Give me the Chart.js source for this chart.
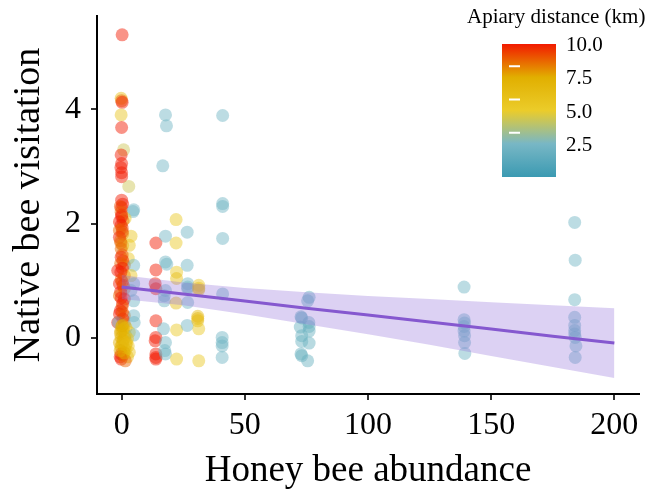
<!DOCTYPE html>
<html><head><meta charset="utf-8">
<style>html,body{margin:0;padding:0;background:#fff;}canvas{display:block;}</style>
<script src="https://cdn.jsdelivr.net/npm/chart.js@4/dist/chart.umd.min.js"></script>
</head><body>
<canvas id="c" width="649" height="492"></canvas>
<script>
// ---- data ----
const honeyBee = [
  // x ~ 0
  0.2,-0.2,0.0,0.2,-0.2,0.0,0.8,-0.2,0.0,-0.3,0.0,0.0,2.9,0.0,0.4,0.0,4.9,4.6,-0.2,0.0,
  1.4,0.6,-0.9,-0.2,0.2,-0.9,0.4,3.8,-0.9,-0.5,0.4,3.1,-0.2,-0.2,2.7,0.5,-0.4,1.1,4.9,0.3,
  -1.6,1.1,3.8,-0.2,-0.9,4.9,0.6,1.1,3.8,-0.4,-0.9,1.1,4.9,0.4,0.2,-0.5,-0.9,1.1,4.9,0.5,
  -1.6,-1.3,1.1,5.1,0.0,1.8,0.4,3.1,-0.5,1.5,4.9,-0.2,2.4,0.6,-0.9,2.0,2.7,-0.3,1.1,1.5,
  3.1,-0.2,0.6,-0.6,2.4,-0.2,1.5,
  // x ~ 14
  13.9,13.9,13.6,13.9,13.9,13.9,13.6,13.9,13.9,13.9,
  // x ~ 18
  17.8,18.2,16.7,17.8,17.8,18.3,17.3,17.3,17.8,17.0,17.8,17.5,17.8,
  // x ~ 22
  22.1,22.1,22.3,22.3,22.1,22.3,22.3,
  // x ~ 27
  26.6,26.6,26.8,26.8,26.8,26.8,26.6,
  // x ~ 31
  31.3,31.3,31.3,30.9,30.9,30.9,31.3,31.3,
  // x ~ 41
  41.0,41.0,41.0,41.0,41.0,40.8,40.8,40.8,40.8,
  // x ~ 73-76
  76.1,75.5,72.8,73.1,76.0,76.1,72.5,76.1,73.1,73.1,76.1,72.8,73.1,75.5,
  // x ~ 139
  139.0,139.0,139.2,139.0,139.0,139.2,139.2,139.3,
  // x ~ 184
  183.9,184.1,183.9,183.9,183.9,183.9,183.9,184.1,184.4,184.1,
  // x ~ 0, overlapping
  0.0,-0.5,0.3,-0.3,0.2,-0.3,0.2,-0.2,0.3,0.8,-0.3,1.2,0.3,1.8,-0.6,1.0,0.3
];
const nativeVisits = [
  5.30,4.19,4.15,4.12,3.90,3.68,3.29,3.20,3.05,2.98,2.89,2.82,2.65,2.41,2.34,2.28,2.24,2.21,2.20,2.15,
  2.09,2.05,2.03,1.97,1.92,1.88,1.82,1.78,1.76,1.70,1.62,1.62,1.56,1.41,1.39,1.35,1.30,1.27,1.27,1.22,
  1.18,1.09,1.09,1.02,0.95,0.95,0.92,0.86,0.83,0.80,0.74,0.68,0.65,0.60,0.55,0.48,0.42,0.39,0.39,0.33,
  0.27,0.27,0.25,0.27,0.20,0.18,0.13,0.10,0.08,0.05,0.05,0.01,-0.01,-0.04,-0.08,-0.08,-0.14,-0.15,-0.19,-0.22,
  -0.25,-0.28,-0.30,-0.33,-0.33,-0.37,-0.40,
  1.66,1.19,0.95,0.86,0.30,0.01,-0.05,-0.28,-0.34,-0.37,
  3.90,3.71,3.01,1.78,1.33,1.29,0.74,0.65,0.83,0.16,-0.08,-0.22,-0.28,
  2.07,1.66,1.15,1.04,0.61,0.14,-0.37,
  1.85,1.27,0.95,0.89,0.86,0.62,0.22,
  0.92,0.87,0.84,0.38,0.34,0.30,0.16,-0.40,
  3.89,2.35,2.30,1.74,0.77,0.01,-0.08,-0.14,-0.34,
  0.71,0.65,0.37,0.35,0.27,0.20,0.19,0.12,0.04,-0.06,-0.09,-0.28,-0.31,-0.40,
  0.89,0.32,0.26,0.20,0.12,0.04,-0.08,-0.27,
  2.02,1.36,0.67,0.36,0.22,0.13,0.07,0.01,-0.14,-0.34,
  2.12,2.30,1.86,1.66,1.45,1.15,0.98,0.70,0.45,0.16,0.12,0.00,-0.10,-0.12,-0.22,-0.26,0.22
];
const apiaryKm = [
  10.0,6.0,8.7,10.0,5.8,10.0,4.3,10.0,10.0,10.0,10.0,10.0,4.3,10.0,10.0,10.0,2.2,2.2,8.7,10.0,
  5.6,8.7,10.0,10.0,9.2,8.7,8.7,5.6,10.0,8.7,7.8,5.6,8.7,10.0,5.6,10.0,8.7,8.7,2.2,10.0,
  10.0,8.7,5.6,8.7,10.0,2.2,10.0,8.7,2.2,10.0,8.7,10.0,2.2,10.0,8.7,10.0,10.0,8.7,2.2,10.0,
  10.0,2.2,8.7,2.2,7.5,6.2,7.0,5.6,7.5,6.5,2.2,7.0,5.6,7.5,7.5,6.2,5.6,7.5,7.0,6.5,
  5.6,9.2,7.5,10.0,6.0,10.0,8.7,
  10.0,10.0,10.0,10.0,10.0,10.0,10.0,10.0,10.0,10.0,
  2.2,2.2,2.2,2.2,2.2,2.2,2.2,2.2,2.2,2.2,2.2,2.2,2.2,
  5.4,5.4,5.4,6.2,6.2,5.4,5.4,
  2.2,2.2,2.2,2.2,2.2,2.2,2.2,
  5.4,6.0,6.5,6.5,6.8,6.5,5.4,5.4,
  2.2,2.2,2.2,2.2,2.2,2.2,2.2,2.2,2.2,
  1.9,1.9,1.9,1.9,1.9,1.9,1.9,1.9,1.9,1.9,1.9,1.9,1.9,1.9,
  2.2,2.2,2.2,2.2,2.2,2.2,2.2,2.2,
  2.2,2.2,2.2,2.2,2.2,2.2,2.2,2.2,2.2,2.2,
  10.0,9.2,9.2,8.7,9.2,10.0,9.2,10.0,9.2,7.0,7.5,7.0,7.0,6.5,7.5,7.5,7.5
];
// fitted line and confidence band
const fitX     = [0, 25, 50, 75, 100, 125, 150, 175, 200];
const fitY     = [0.89, 0.77, 0.645, 0.52, 0.40, 0.28, 0.155, 0.03, -0.09];
const fitUpper = [1.10, 0.97, 0.875, 0.80, 0.735, 0.68, 0.625, 0.57, 0.52];
const fitLower = [0.68, 0.57, 0.415, 0.24, 0.065, -0.12, -0.315, -0.51, -0.70];
// axes / legend
const xTicks = [0, 50, 100, 150, 200];
const yTicks = [0, 2, 4];
const xRange = [-10, 210];
const yRange = [-0.98, 5.63];
const distRange = [0, 10];
const legendTicks = [2.5, 5.0, 7.5, 10.0];
const legendLabels = ['2.5', '5.0', '7.5', '10.0'];
const palette = ['#3B9AB2', '#78B7C5', '#EBCC2A', '#E1AF00', '#F21A00'];

// ---- helpers ----
function hexRgb(h){ return [parseInt(h.slice(1,3),16), parseInt(h.slice(3,5),16), parseInt(h.slice(5,7),16)]; }
function distColor(d, a){
  let t = (d - distRange[0]) / (distRange[1] - distRange[0]);
  t = Math.max(0, Math.min(1, t));
  const seg = t * (palette.length - 1);
  const i = Math.min(Math.floor(seg), palette.length - 2);
  const f = seg - i;
  const c0 = hexRgb(palette[i]), c1 = hexRgb(palette[i+1]);
  const c = c0.map((v,k) => Math.round(v + (c1[k]-v)*f));
  return `rgba(${c[0]},${c[1]},${c[2]},${a})`;
}

const serif = "'Liberation Serif', 'Times New Roman', serif";
Chart.defaults.font.family = serif;

const colorbar = {
  id: 'colorbar',
  afterDraw(chart){
    const ctx = chart.ctx;
    const bx = 502, by = 44, bw = 54, bh = 133;
    ctx.save();
    const g = ctx.createLinearGradient(0, by + bh, 0, by);
    palette.forEach((c, i) => g.addColorStop(i / (palette.length - 1), c));
    ctx.fillStyle = g;
    ctx.fillRect(bx, by, bw, bh);
    // white tick marks
    ctx.strokeStyle = '#fff';
    ctx.lineWidth = 2;
    legendTicks.forEach(v => {
      const y = by + bh - (v - distRange[0]) / (distRange[1] - distRange[0]) * bh - 11;
      if (y > by + 2 && y < by + bh - 2) {
        ctx.beginPath(); ctx.moveTo(bx + 7, y); ctx.lineTo(bx + 18, y); ctx.stroke();
      }
    });
    ctx.fillStyle = '#000';
    ctx.font = `21px ${serif}`;
    ctx.textBaseline = 'middle';
    ctx.textAlign = 'left';
    legendTicks.forEach((v, i) => {
      const y = by + bh - (v - distRange[0]) / (distRange[1] - distRange[0]) * bh + 1.5;
      ctx.fillText(legendLabels[i], 566, y);
    });
    ctx.textBaseline = 'alphabetic';
    ctx.fillText('Apiary distance (km)', 467, 23);
    ctx.restore();
  }
};

const pts = honeyBee.map((x, i) => ({x: x, y: nativeVisits[i]}));
const ptColors = apiaryKm.map(d => distColor(d, 0.47));

new Chart(document.getElementById('c'), {
  type: 'scatter',
  data: {
    datasets: [
      { type: 'scatter', data: pts, order: 3,
        pointRadius: 6.5, pointHoverRadius: 6.5, pointBorderWidth: 0,
        pointBorderColor: 'rgba(0,0,0,0)', pointBackgroundColor: ptColors },
      { type: 'line', data: fitX.map((x, i) => ({x: x, y: fitUpper[i]})), order: 2,
        borderWidth: 0, borderColor: 'rgba(0,0,0,0)', pointRadius: 0, fill: '+1',
        backgroundColor: 'rgba(147,112,219,0.32)' },
      { type: 'line', data: fitX.map((x, i) => ({x: x, y: fitLower[i]})), order: 2,
        borderWidth: 0, borderColor: 'rgba(0,0,0,0)', pointRadius: 0, fill: false },
      { type: 'line', data: fitX.map((x, i) => ({x: x, y: fitY[i]})), order: 1,
        borderWidth: 3, borderColor: '#8558cf', pointRadius: 0, fill: false }
    ]
  },
  options: {
    responsive: false, animation: false, devicePixelRatio: 1,
    layout: { padding: { top: 16, right: 10, left: 0, bottom: 0 } },
    plugins: { legend: { display: false }, tooltip: { enabled: false } },
    scales: {
      x: {
        type: 'linear', min: xRange[0], max: xRange[1],
        afterBuildTicks: s => { s.ticks = xTicks.map(v => ({value: v})); },
        afterFit: s => { s.height = 98; s.paddingLeft = 0; s.paddingRight = 0; },
        ticks: { font: { size: 32 }, color: '#000', padding: 6, maxRotation: 0, autoSkip: false },
        grid: { display: true, drawOnChartArea: false, drawTicks: true, tickLength: 6, color: '#333', lineWidth: 2 },
        border: { display: true, color: '#000', width: 2 },
        title: { display: true, text: 'Honey bee abundance', font: { size: 37 }, color: '#000', padding: { top: 0, bottom: -1 } }
      },
      y: {
        type: 'linear', min: yRange[0], max: yRange[1],
        afterBuildTicks: s => { s.ticks = yTicks.map(v => ({value: v})); },
        afterFit: s => { s.width = 97; s.paddingTop = 0; s.paddingBottom = 0; },
        ticks: { font: { size: 32 }, color: '#000', padding: 10, autoSkip: false },
        grid: { display: true, drawOnChartArea: false, drawTicks: true, tickLength: 6, color: '#333', lineWidth: 2 },
        border: { display: true, color: '#000', width: 2 },
        title: { display: true, text: 'Native bee visitation', font: { size: 38 }, color: '#000', padding: { top: 6, bottom: 0 } }
      }
    }
  },
  plugins: [colorbar]
});
</script>
</body></html>
